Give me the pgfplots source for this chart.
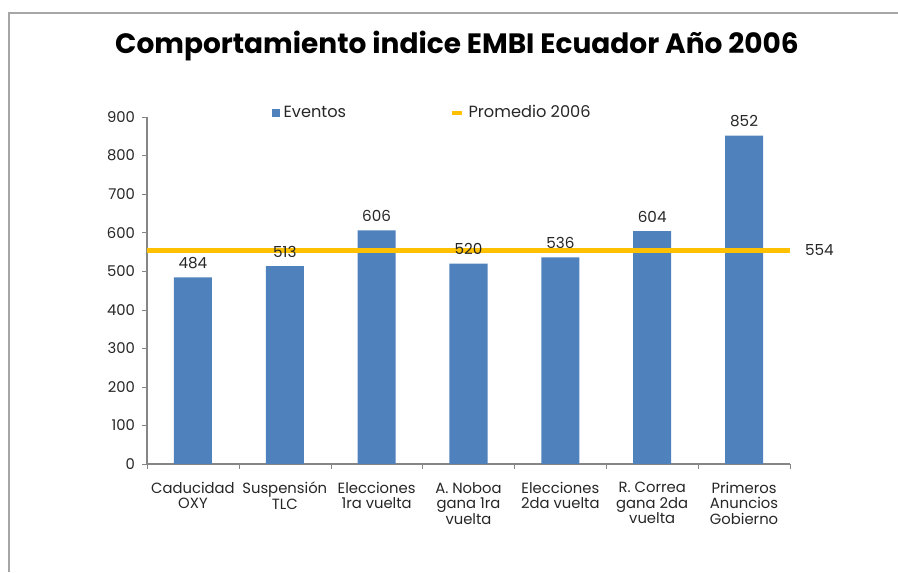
\documentclass[border=0pt]{standalone}
\usepackage{fontspec}
\setmainfont{Poppins}
\usepackage{pgfplots}
\usepackage{pgfplotstable}
\pgfplotsset{compat=1.18}
\definecolor{barblue}{HTML}{4F81BD}
\definecolor{avgyel}{HTML}{FFC000}
\definecolor{axgray}{HTML}{868686}
\definecolor{framegray}{HTML}{A6A6A6}
\definecolor{txt}{HTML}{262626}

% EMBI por evento
\pgfplotstableread{
x y
0 484
1 513
2 606
3 520
4 536
5 604
6 852
}\eventos

\begin{document}
\begin{tikzpicture}[x=0.5pt,y=0.5pt]
\path[use as bounding box] (0,0) rectangle (898,572);
\draw[framegray, line width=0.8pt] (9,0) -- (9,559) -- (898,559);
\node[font=\fontsize{14}{17}\selectfont\bfseries] at (457,526) {Comportamiento indice EMBI Ecuador Año 2006};
\begin{axis}[
  at={(73.5pt,54pt)}, anchor=south west,
  scale only axis, width=321.5pt, height=173.5pt,
  xmin=-0.5, xmax=6.5, ymin=0, ymax=900,
  ytick={0,100,...,900},
  xtick={0,...,6},
  xticklabels={{Caducidad\\OXY},{Suspensión\\TLC},{Elecciones\\1ra vuelta},{A. Noboa\\gana 1ra\\vuelta},{Elecciones\\2da vuelta},{R. Correa\\gana 2da\\vuelta},{Primeros\\Anuncios\\Gobierno}},
  minor xtick={-0.5,0.5,...,6.5},
  major x tick style={draw=none},
  minor x tick style={draw=axgray},
  y tick style={draw=axgray},
  tick align=outside,
  major tick length=2.5pt, minor tick length=2.5pt,
  axis x line*=bottom, axis y line*=left,
  axis line style={draw=axgray, line width=0.6pt, -},
  /pgf/number format/assume math mode=true,
  tick label style={font=\fontsize{7.4}{7.5}\selectfont, text=txt},
  xticklabel style={align=center, yshift=-3pt, font=\fontsize{7.4}{7.8}\selectfont},
  clip=false,
  legend style={draw=none, fill=none, at={(0.445,1.012)}, anchor=center,
    font=\fontsize{8.1}{9}\selectfont, text=txt,
    /tikz/every even column/.append style={column sep=50pt}},
  legend columns=2,
]
\addplot[ybar, bar width=19pt, fill=barblue, draw=none,
  nodes near coords, every node near coord/.append style={font=\fontsize{7.6}{8}\selectfont, text=txt, yshift=1pt},
  legend image code/.code={\fill[barblue] (0pt,-2pt) rectangle (4pt,2pt);}]
  table {\eventos};
\addlegendentry{Eventos}
\addplot[avgyel, line width=2.6pt,
  legend image code/.code={\draw[avgyel, line width=2.2pt] (0pt,0pt) -- (5pt,0pt);}]
  coordinates {(-0.5,554) (6.5,554)};
\addlegendentry{Promedio 2006}
\node[anchor=west, font=\fontsize{7.6}{8}\selectfont, text=txt] at (axis cs:6.5,554) [xshift=4pt] {554};
\end{axis}
\end{tikzpicture}
\end{document}
